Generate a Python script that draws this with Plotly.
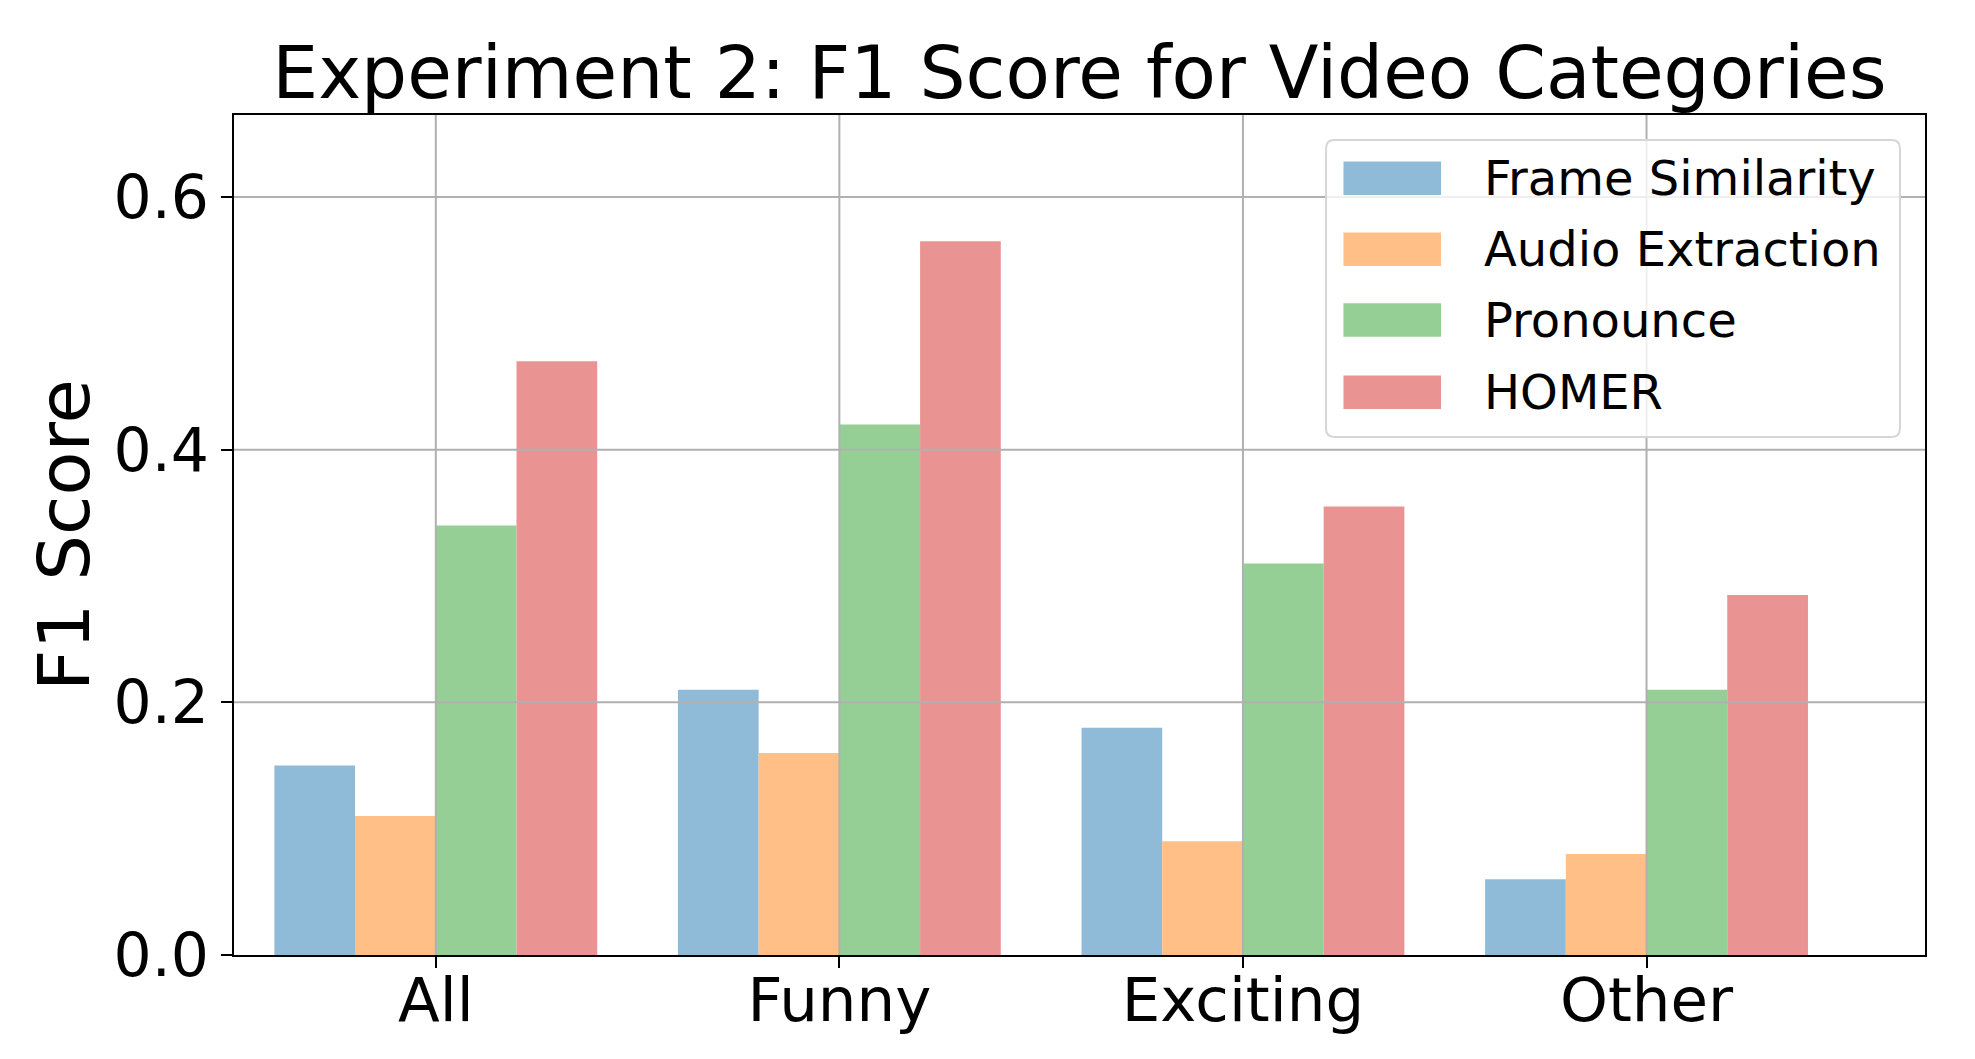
import plotly.graph_objects as go

# data
categories = ['All', 'Funny', 'Exciting', 'Other']
methods = ['Frame Similarity', 'Audio Extraction', 'Pronounce', 'HOMER']
frame_similarity = [0.15, 0.21, 0.18, 0.06]
audio_extraction = [0.11, 0.16, 0.09, 0.08]
pronounce = [0.34, 0.42, 0.31, 0.21]
homer = [0.47, 0.565, 0.355, 0.285]
y_ticks = [0.0, 0.2, 0.4, 0.6]

series = [frame_similarity, audio_extraction, pronounce, homer]
# tab10 colours at alpha 0.5 on white
colors = ['#8fbbd9', '#ffbf86', '#95cf95', '#ea9393']

FONT = 'DejaVu Sans'
GRID = '#b0b0b0'

fig = go.Figure()
for name, vals, col in zip(methods, series, colors):
    fig.add_trace(go.Bar(
        x=categories, y=vals, name=name,
        marker=dict(color=col, line=dict(width=0)),
        showlegend=False,
    ))

# grid drawn over the bars like matplotlib does
shapes = []
for v in y_ticks[1:]:
    shapes.append(dict(type='line', xref='paper', yref='y', x0=0, x1=1, y0=v, y1=v,
                       line=dict(color=GRID, width=2), layer='above'))
for c in categories:
    shapes.append(dict(type='line', xref='x', yref='paper', x0=c, x1=c, y0=0, y1=1,
                       line=dict(color=GRID, width=2), layer='above'))

# hand made legend (plotly bar swatches are too small)
lx0, lx1, ly0, ly1 = 0.6458, 0.9852, 0.6167, 0.9702
rx, ry = 0.005, 0.01
legend_path = (f'M {lx0+rx},{ly0} L {lx1-rx},{ly0} Q {lx1},{ly0} {lx1},{ly0+ry} '
               f'L {lx1},{ly1-ry} Q {lx1},{ly1} {lx1-rx},{ly1} L {lx0+rx},{ly1} '
               f'Q {lx0},{ly1} {lx0},{ly1-ry} L {lx0},{ly0+ry} Q {lx0},{ly0} {lx0+rx},{ly0} Z')
shapes.append(dict(type='path', xref='paper', yref='paper', path=legend_path,
                   fillcolor='rgba(255,255,255,0.8)', line=dict(color='#d6d6d6', width=2),
                   layer='above'))

annotations = []
row_y = [0.9247, 0.8401, 0.7560, 0.6699]
for name, col, yc in zip(methods, colors, row_y):
    shapes.append(dict(type='rect', xref='paper', yref='paper',
                       x0=0.6561, x1=0.7138, y0=yc - 0.0199, y1=yc + 0.0199,
                       fillcolor=col, line=dict(width=0), layer='above'))
    annotations.append(dict(text=name, xref='paper', yref='paper', x=0.738, y=yc,
                            xanchor='left', yanchor='middle', showarrow=False,
                            font=dict(family=FONT, size=48, color='black')))

fig.update_layout(
    width=1975, height=1059,
    margin=dict(l=226, r=58, t=107, b=112),
    plot_bgcolor='white', paper_bgcolor='white',
    barmode='group', bargap=0.2, bargroupgap=0,
    title=dict(text='Experiment 2: F1 Score for Video Categories',
               x=0.5425, xanchor='center', yref='container', y=0.9387, yanchor='middle',
               font=dict(family=FONT, size=72.6, color='black')),
    xaxis=dict(
        range=[-0.5, 3.69], showgrid=False,
        showline=True, mirror=True, linecolor='black', linewidth=2,
        ticks='outside', ticklen=11, tickwidth=2, tickcolor='black',
        ticklabelstandoff=-20,
        tickfont=dict(family=FONT, size=61, color='black'),
    ),
    yaxis=dict(
        range=[0, 0.665], tickvals=y_ticks, tickformat='.1f', showgrid=False, zeroline=False,
        showline=True, mirror=True, linecolor='black', linewidth=2,
        ticks='outside', ticklen=11, tickwidth=2, tickcolor='black',
        tickfont=dict(family=FONT, size=60, color='black'),
        title=dict(text='F1 Score', standoff=0, font=dict(family=FONT, size=72, color='black')),
    ),
    shapes=shapes,
    annotations=annotations,
)

fig.write_html("out.html")
